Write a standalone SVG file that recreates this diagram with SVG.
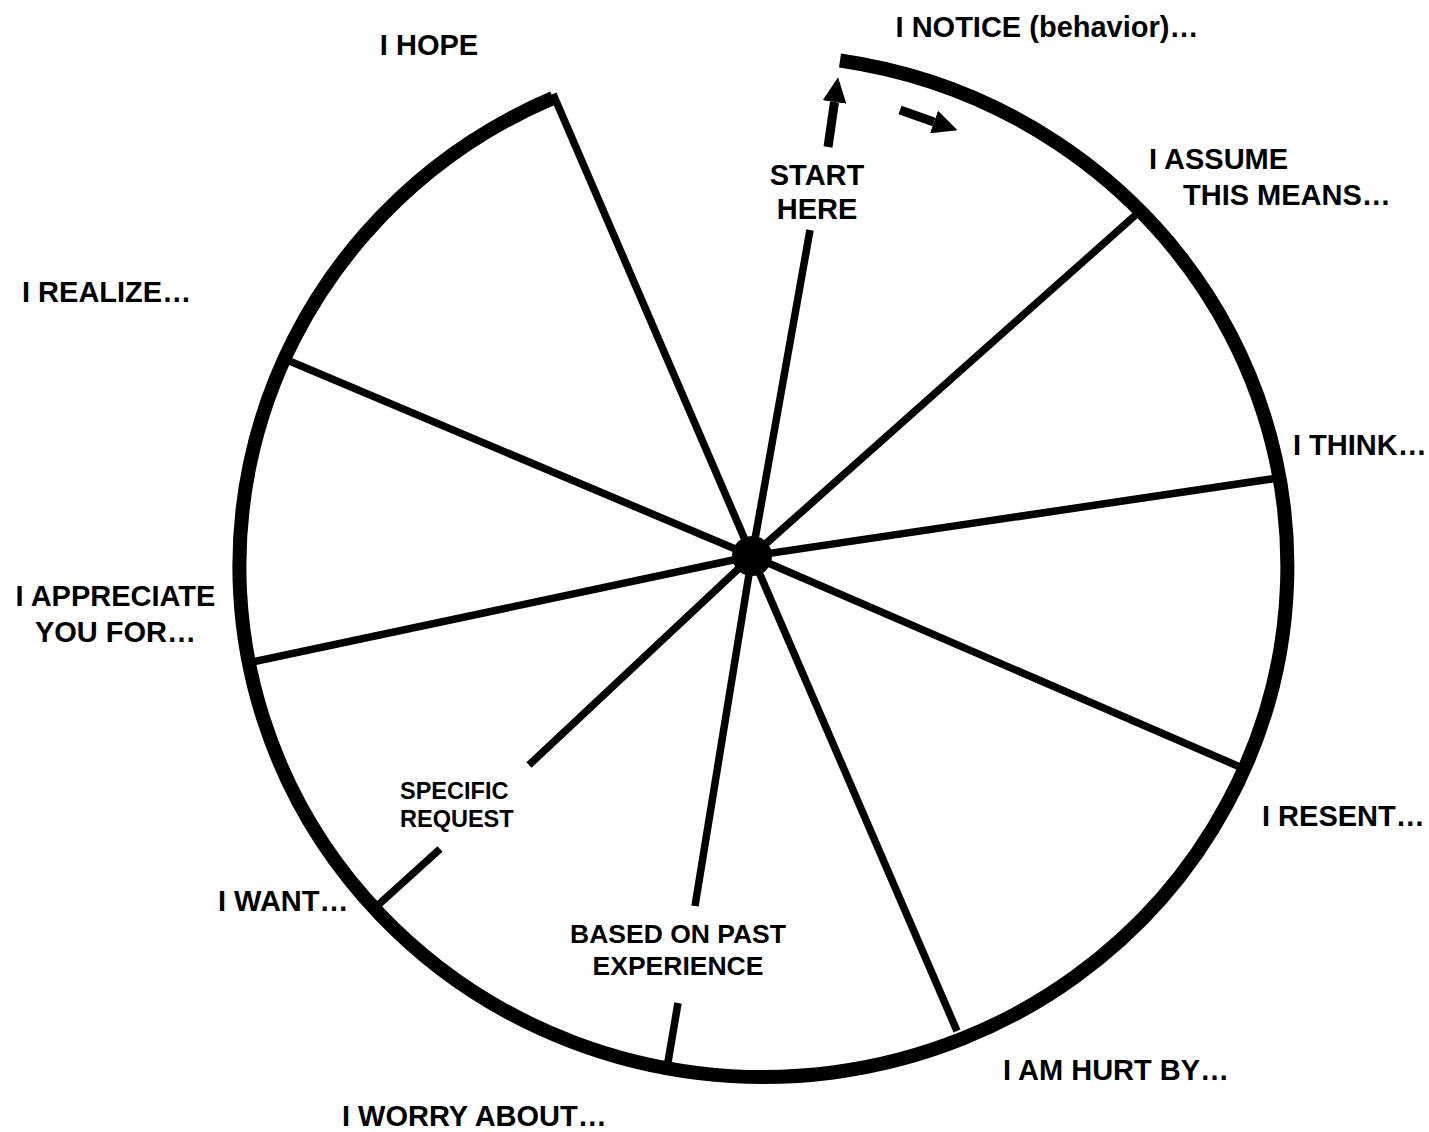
<svg xmlns="http://www.w3.org/2000/svg" width="1429" height="1132" viewBox="0 0 1429 1132">
  <style>
    text { font-family: "Liberation Sans", Arial, sans-serif; font-weight: bold; fill: #000; }
    .lbl { font-size: 29px; }
    .small { font-size: 23.5px; }
    .mid { font-size: 26.5px; }
    .spoke { stroke: #000; stroke-width: 7.5; fill: none; stroke-linecap: butt; }
    .rim { stroke: #000; stroke-width: 14; fill: none; }
    .arrow { stroke: #000; stroke-width: 9; fill: none; }
  </style>
  <defs>
    <marker id="head" markerUnits="userSpaceOnUse" viewBox="0 0 25 24" markerWidth="25" markerHeight="24" refX="0" refY="12" orient="auto">
      <path d="M0,0 L25,12 L0,24 Z" fill="#000"/>
    </marker>
  </defs>
  <rect width="1429" height="1132" fill="#fff"/>

  <g id="wheel">
    <path class="rim" d="M 840 60.5 A 524 511 0 1 1 553 98"/>
  </g>

  <g id="connectors">
    <line class="spoke" x1="752" y1="556" x2="553" y2="94"/>
    <line class="spoke" x1="752" y1="556" x2="810" y2="230"/>
    <line class="spoke" x1="752" y1="556" x2="1139" y2="212"/>
    <line class="spoke" x1="752" y1="556" x2="1278" y2="478"/>
    <line class="spoke" x1="752" y1="556" x2="1240" y2="767"/>
    <line class="spoke" x1="752" y1="556" x2="957" y2="1031"/>
    <line class="spoke" x1="752" y1="556" x2="695" y2="906"/>
    <line class="spoke" x1="678" y1="1003" x2="668" y2="1062"/>
    <line class="spoke" x1="752" y1="556" x2="529" y2="765"/>
    <line class="spoke" x1="440" y1="849" x2="377" y2="906"/>
    <line class="spoke" x1="752" y1="556" x2="252" y2="662"/>
    <line class="spoke" x1="752" y1="556" x2="287" y2="360"/>
    <line class="arrow" x1="828" y1="147" x2="834.5" y2="102" marker-end="url(#head)"/>
    <line class="arrow" x1="900" y1="110" x2="934" y2="122" marker-end="url(#head)"/>
  </g>

  <g id="hub">
    <circle cx="752" cy="556" r="20" fill="#000"/>
  </g>

  <g id="label-hope"><text class="lbl" x="429" y="55" text-anchor="middle">I HOPE</text></g>
  <g id="label-notice"><text class="lbl" x="1047" y="37" text-anchor="middle">I NOTICE (behavior)…</text></g>
  <g id="label-start"><text class="lbl" x="817" y="185" text-anchor="middle">START</text><text class="lbl" x="817" y="219" text-anchor="middle">HERE</text></g>
  <g id="label-assume"><text class="lbl" x="1149" y="169">I ASSUME</text><text class="lbl" x="1183" y="205">THIS MEANS…</text></g>
  <g id="label-realize"><text class="lbl" x="22" y="302">I REALIZE…</text></g>
  <g id="label-think"><text class="lbl" x="1293" y="455">I THINK…</text></g>
  <g id="label-appreciate"><text class="lbl" x="115.5" y="606" text-anchor="middle">I APPRECIATE</text><text class="lbl" x="115.5" y="642" text-anchor="middle">YOU FOR…</text></g>
  <g id="label-resent"><text class="lbl" x="1262" y="826">I RESENT…</text></g>
  <g id="label-request"><text class="small" x="400" y="799">SPECIFIC</text><text class="small" x="400" y="827">REQUEST</text></g>
  <g id="label-want"><text class="lbl" x="218" y="911">I WANT…</text></g>
  <g id="label-past"><text class="mid" x="678" y="943" text-anchor="middle">BASED ON PAST</text><text class="mid" x="678" y="975" text-anchor="middle">EXPERIENCE</text></g>
  <g id="label-hurt"><text class="lbl" x="1003" y="1080">I AM HURT BY…</text></g>
  <g id="label-worry"><text class="lbl" x="342" y="1126">I WORRY ABOUT…</text></g>
</svg>
